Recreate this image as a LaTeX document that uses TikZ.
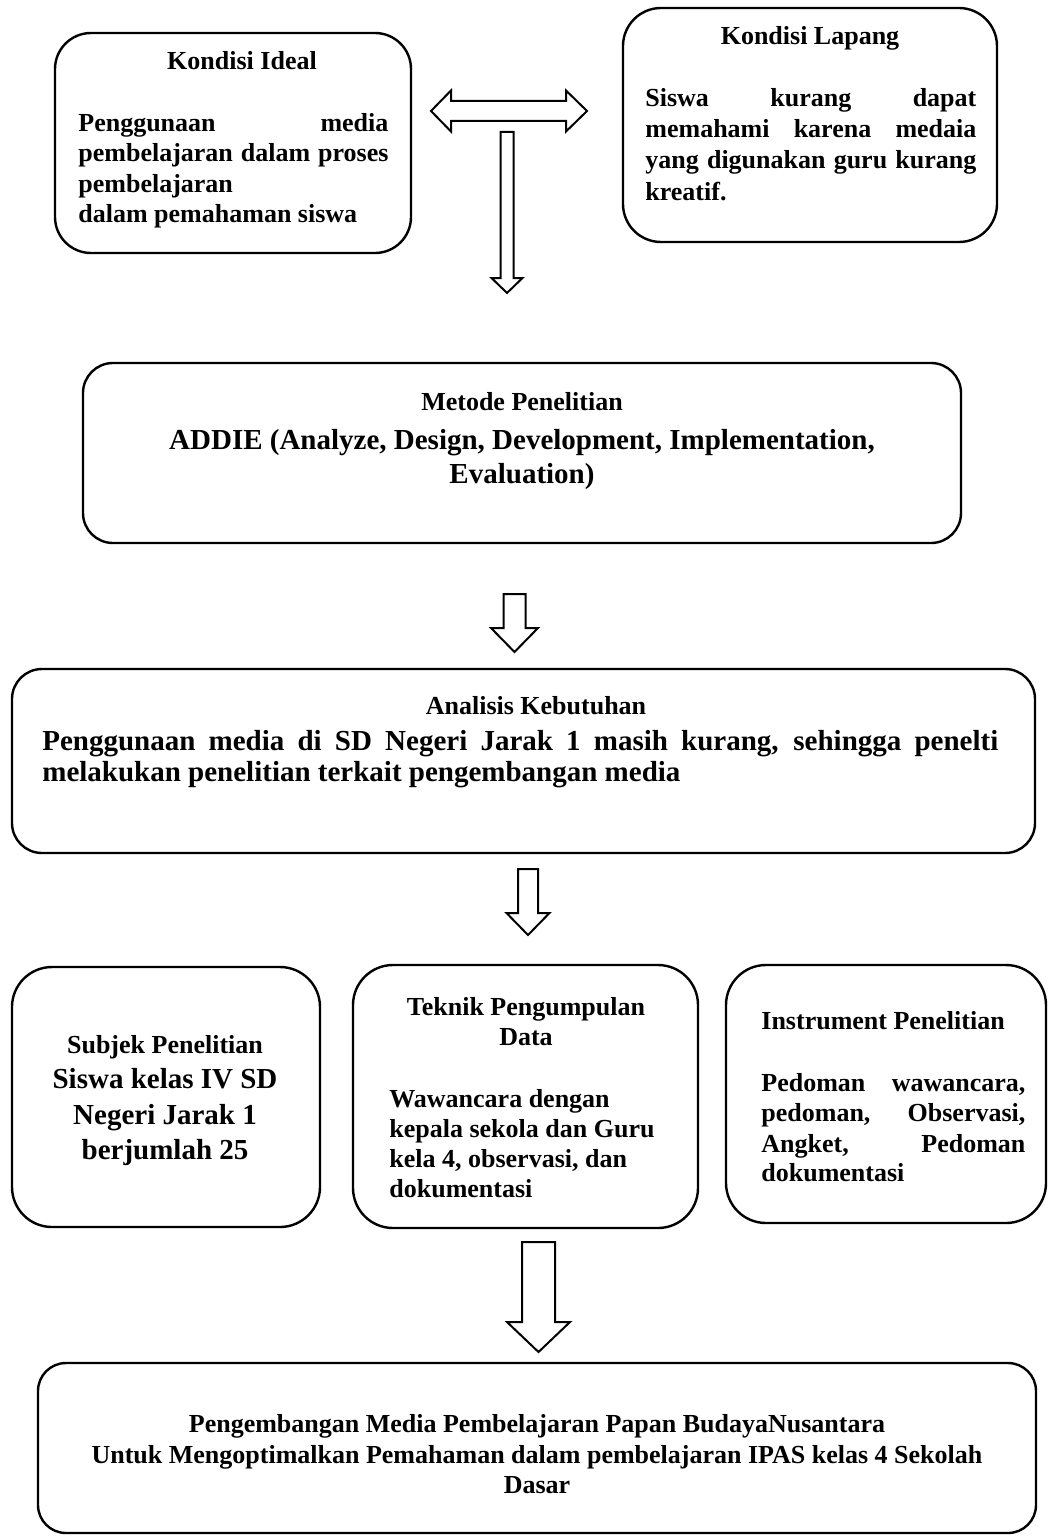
\documentclass[tikz,border=0pt]{standalone}
\usepackage{fontspec}
\setmainfont{Liberation Serif}
\newcommand\fsa{\fontsize{13}{15}\selectfont\bfseries}
\newcommand\fsb{\fontsize{14.5}{17}\selectfont\bfseries}
\tikzset{
  pics/downarrow/.style n args={4}{code={
    \draw[blk] (-#1,0) -- (#1,0) -- (#1,#3) -- (#2,#3) -- (0,#4) -- (-#2,#3) -- (-#1,#3) -- cycle;}}
}
\begin{document}
\begin{tikzpicture}[x=0.5pt,y=-0.5pt,
  box/.style={draw, line width=1.2pt, rectangle, inner sep=0pt},
  ln/.style={inner sep=0pt, anchor=base},
  lnw/.style={inner sep=0pt, anchor=base west},
  blk/.style={draw, line width=1pt, fill=white, line join=miter}]
\useasboundingbox (0,0) rectangle (1048,1536);
\fill[white] (0,0) rectangle (1048,1536);

% boxes
\node[box, minimum width=178pt, minimum height=110pt, rounded corners=18pt] (ideal) at (233,143) {};
\node[box, minimum width=187pt, minimum height=117pt, rounded corners=19pt] (lapang) at (810,125) {};
\node[box, minimum width=439pt, minimum height=90pt, rounded corners=15pt] (metode) at (522,453) {};
\node[box, minimum width=511.5pt, minimum height=92pt, rounded corners=15pt] (analisis) at (523.5,761) {};
\node[box, minimum width=154pt, minimum height=130pt, rounded corners=20pt] (subjek) at (166,1097) {};
\node[box, minimum width=172.5pt, minimum height=131.5pt, rounded corners=20pt] (teknik) at (525.5,1096.5) {};
\node[box, minimum width=160pt, minimum height=129pt, rounded corners=20pt] (instr) at (886,1094) {};
\node[box, minimum width=499pt, minimum height=85pt, rounded corners=14pt] (final) at (537,1448) {};

% block arrows
\draw[blk] (431,111) -- (451,90.5) -- (451,101) -- (566,101) -- (566,90.5) -- (587,111)
  -- (566,131.5) -- (566,121) -- (451,121) -- (451,131.5) -- cycle;
\pic (arrA) at (507,132) {downarrow={6.5}{15.5}{146}{161}};
\pic (arrB) at (514.5,594) {downarrow={11}{23.5}{34}{58}};
\pic (arrC) at (528,869) {downarrow={10}{21.5}{44}{66}};
\pic (arrD) at (538.5,1242) {downarrow={16.5}{31.5}{80}{110}};

% Kondisi Ideal
\node[ln,font=\fsa] (idealT) at (242,70) {Kondisi Ideal};
\node[lnw,font=\fsa] (ideal1) at (78,132) {\makebox[155pt][s]{Penggunaan media}};
\node[lnw,font=\fsa] (ideal2) at (78,162) {\makebox[155pt][s]{pembelajaran dalam proses}};
\node[lnw,font=\fsa] (ideal3) at (78,192) {pembelajaran};
\node[lnw,font=\fsa] (ideal4) at (78,222) {dalam pemahaman siswa};

% Kondisi Lapang
\node[ln,font=\fsa] (lapT) at (810,45) {Kondisi Lapang};
\node[lnw,font=\fsa] (lap1) at (645,107) {\makebox[165.5pt][s]{Siswa kurang dapat}};
\node[lnw,font=\fsa] (lap2) at (645,138) {\makebox[165.5pt][s]{memahami karena medaia}};
\node[lnw,font=\fsa] (lap3) at (645,169) {\makebox[165.5pt][s]{yang digunakan guru kurang}};
\node[lnw,font=\fsa] (lap4) at (645,200) {kreatif.};

% Metode
\node[ln,font=\fsa] (metT) at (522,410) {Metode Penelitian};
\node[ln,font=\fsb] (met1) at (522,449) {ADDIE (Analyze, Design, Development, Implementation,};
\node[ln,font=\fsb] (met2) at (522,483) {Evaluation)};

% Analisis
\node[ln,font=\fsa] (anaT) at (536,714) {Analisis Kebutuhan};
\node[lnw,font=\fsb] (ana1) at (42,750) {\makebox[478pt][s]{Penggunaan media di SD Negeri Jarak 1 masih kurang, sehingga penelti}};
\node[lnw,font=\fsb] (ana2) at (42,781) {melakukan penelitian terkait pengembangan media};

% Subjek
\node[ln,font=\fsa] (subT) at (165,1053) {Subjek Penelitian};
\node[ln,font=\fsb] (sub1) at (165,1088) {Siswa kelas IV SD};
\node[ln,font=\fsb] (sub2) at (165,1124) {Negeri Jarak 1};
\node[ln,font=\fsb] (sub3) at (165,1159) {berjumlah 25};

% Teknik
\node[ln,font=\fsa] (tekT1) at (526,1015) {Teknik Pengumpulan};
\node[ln,font=\fsa] (tekT2) at (526,1045) {Data};
\node[lnw,font=\fsa] (tek1) at (389,1107) {Wawancara dengan};
\node[lnw,font=\fsa] (tek2) at (389,1137) {kepala sekola dan Guru};
\node[lnw,font=\fsa] (tek3) at (389,1167) {kela 4, observasi, dan};
\node[lnw,font=\fsa] (tek4) at (389,1197) {dokumentasi};

% Instrument
\node[lnw,font=\fsa] (insT) at (761,1029) {Instrument Penelitian};
\node[lnw,font=\fsa] (ins1) at (761,1091) {\makebox[132pt][s]{Pedoman wawancara,}};
\node[lnw,font=\fsa] (ins2) at (761,1121) {\makebox[132pt][s]{pedoman, Observasi,}};
\node[lnw,font=\fsa] (ins3) at (761,1152) {\makebox[132pt][s]{Angket, Pedoman}};
\node[lnw,font=\fsa] (ins4) at (761,1181) {dokumentasi};

% Final
\node[ln,font=\fsa] (fin1) at (537,1432) {Pengembangan Media Pembelajaran Papan BudayaNusantara};
\node[ln,font=\fsa] (fin2) at (537,1463) {Untuk Mengoptimalkan Pemahaman dalam pembelajaran IPAS kelas 4 Sekolah};
\node[ln,font=\fsa] (fin3) at (537,1493) {Dasar};
\end{tikzpicture}
\end{document}
